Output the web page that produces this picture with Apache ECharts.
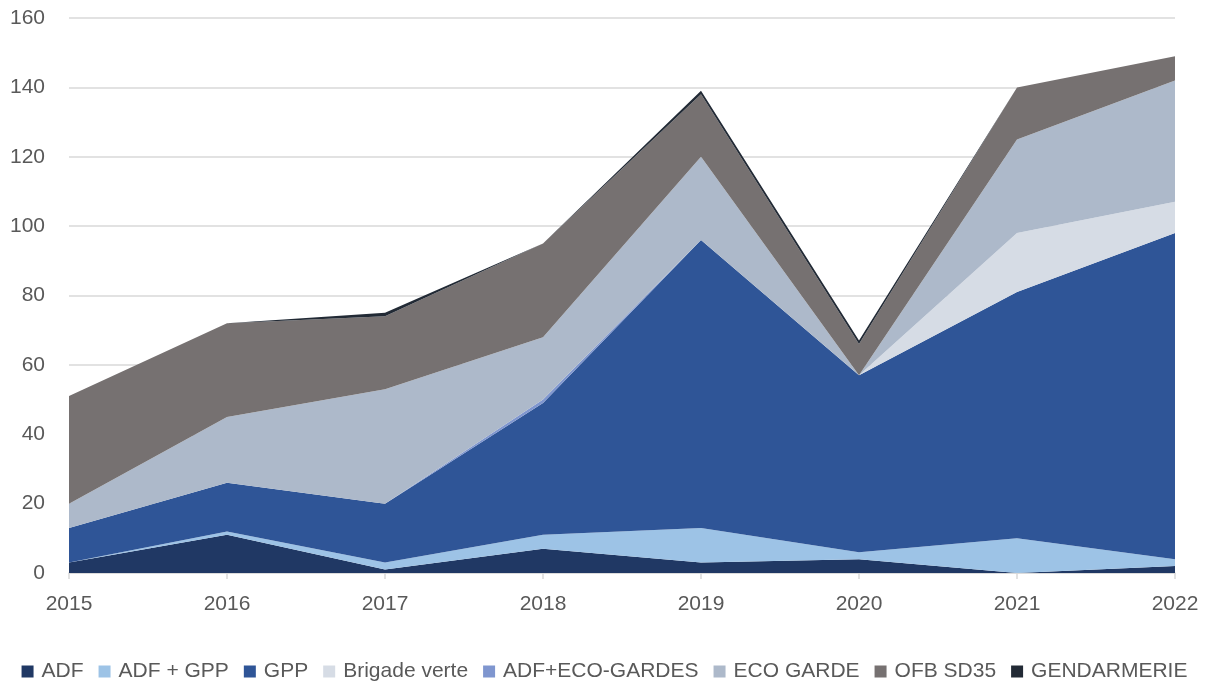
<!DOCTYPE html>
<html>
<head>
<meta charset="utf-8">
<script src="https://cdn.jsdelivr.net/npm/echarts@6/dist/echarts.min.js"></script>
<style>
    html, body { margin: 0; padding: 0; background: #fff; }
    #chart { width: 1209px; height: 682px; }
</style>
</head>
<body>
<div id="chart"></div>
<script>
    // années
    var years = ['2015', '2016', '2017', '2018', '2019', '2020', '2021', '2022'];

    // valeurs par série (empilées)
    var adf = [3, 11, 1, 7, 3, 4, 0, 2];
    var adfGpp = [0, 1, 2, 4, 10, 2, 10, 2];
    var gpp = [10, 14, 17, 38, 83, 51, 71, 94];
    var brigadeVerte = [0, 0, 0, 0, 0, 0, 17, 9];
    var adfEcoGardes = [0, 0, 0, 1, 0, 0, 0, 0];
    var ecoGarde = [7, 19, 33, 18, 24, 0, 27, 35];
    var ofb = [31, 27, 21, 27, 18, 9, 15, 7];
    var gendarmerie = [0, 0, 1, 0, 1, 1, 0, 0];

    var names = ['ADF', 'ADF + GPP', 'GPP', 'Brigade verte', 'ADF+ECO-GARDES', 'ECO GARDE', 'OFB SD35', 'GENDARMERIE'];
    var colors = ['#203864', '#9dc3e6', '#2f5597', '#d6dce5', '#7f96cf', '#adb9ca', '#767171', '#222a35'];
    var values = [adf, adfGpp, gpp, brigadeVerte, adfEcoGardes, ecoGarde, ofb, gendarmerie];

    var font = '"Liberation Sans", sans-serif';

    var series = names.map(function (n, i) {
        return {
            name: n,
            type: 'line',
            stack: 'total',
            data: values[i],
            symbol: 'none',
            lineStyle: { width: 0, color: colors[i] },
            areaStyle: { color: colors[i], opacity: 1 },
            itemStyle: { color: colors[i] }
        };
    });

    var chart = echarts.init(document.getElementById('chart'));
    chart.setOption({
        animation: false,
        color: colors,
        grid: { left: 69, right: 34, top: 18, bottom: 109 },
        legend: {
            top: 656,
            left: 'center',
            icon: 'rect',
            itemWidth: 12,
            itemHeight: 12,
            itemGap: 15,
            textStyle: { color: '#595959', fontSize: 21, fontFamily: font, padding: [0, 0, 0, 3] },
            data: names
        },
        xAxis: {
            type: 'category',
            data: years,
            boundaryGap: false,
            axisLine: { lineStyle: { color: '#d9d9d9', width: 1.5 } },
            axisTick: { show: true, alignWithLabel: true, length: 6, lineStyle: { color: '#d9d9d9', width: 1.5 } },
            axisLabel: { color: '#595959', fontSize: 21, fontFamily: font, margin: 21 }
        },
        yAxis: {
            type: 'value',
            min: 0,
            max: 160,
            interval: 20,
            axisLine: { show: false },
            axisTick: { show: false },
            splitLine: { lineStyle: { color: '#d9d9d9', width: 1.5 } },
            axisLabel: { color: '#595959', fontSize: 21, fontFamily: font, margin: 24 }
        },
        series: series
    });
</script>
</body>
</html>
